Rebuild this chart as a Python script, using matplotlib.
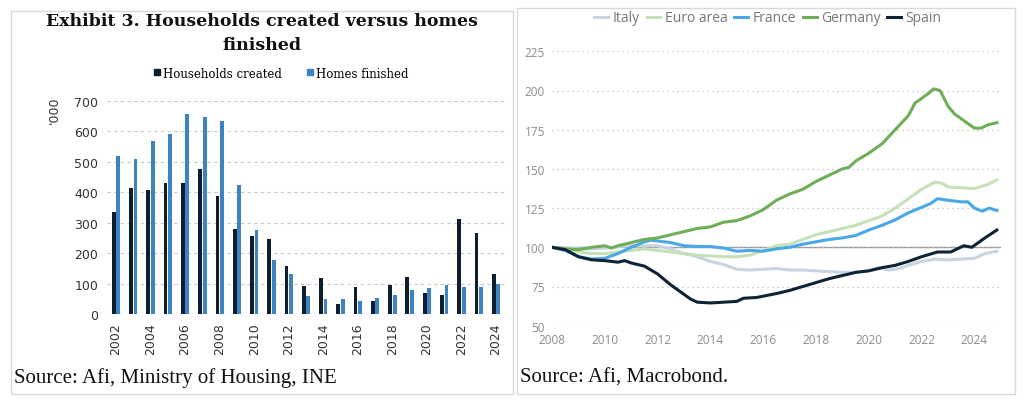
"""Two-panel exhibit: households vs homes finished (Spain) and house price index by country."""

import matplotlib
matplotlib.use("Agg")
import matplotlib.pyplot as plt
from matplotlib.lines import Line2D
from matplotlib.patches import Rectangle

# --- left panel data ('000) ---------------------------------------------------
YEARS = list(range(2002, 2025))
HOUSEHOLDS = [334, 415, 408, 432, 429, 475, 387, 279, 255, 248, 158, 91, 117,
              32, 90, 43, 95, 122, 70, 64, 311, 265, 133]
HOMES = [519, 508, 568, 593, 658, 647, 634, 425, 276, 179, 133, 60, 50,
         50, 43, 53, 64, 78, 87, 94, 88, 88, 99]

# --- right panel data (index, 2008 = 100) ------------------------------------
ITALY_X = [2008, 2008.5, 2009, 2009.5, 2010, 2010.5, 2011, 2011.5, 2012, 2012.5,
           2013, 2013.5, 2014, 2014.5, 2015, 2015.5, 2016, 2016.5, 2017, 2017.5,
           2018, 2018.5, 2019, 2019.5, 2020, 2020.35, 2020.75, 2021, 2021.25,
           2021.5, 2022, 2022.5, 2023, 2023.5, 2024, 2024.4, 2024.85]
ITALY_Y = [100, 99.5, 99, 99, 99.5, 100.5, 101, 101, 101, 99,
           96, 94, 91, 89, 86, 85.5, 86, 86.5, 85.5, 85.5,
           85, 84.5, 84, 84, 85, 87, 85.5, 86, 87,
           88.5, 91, 92.5, 92, 92.5, 93, 96, 97.5]

EURO_X = [2008, 2008.5, 2009, 2009.5, 2010, 2010.5, 2011, 2011.5, 2012, 2012.5,
          2013, 2013.5, 2014, 2014.5, 2015, 2015.5, 2016, 2016.5, 2017, 2017.5,
          2018, 2018.5, 2019, 2019.5, 2020, 2020.5, 2021, 2021.5, 2022, 2022.5,
          2022.75, 2023, 2023.5, 2024, 2024.5, 2024.85]
EURO_Y = [100, 99, 97, 96, 96, 97, 98, 99, 98, 97,
          96, 95, 94.5, 94, 94, 95, 98, 101, 102, 105,
          108, 110, 112, 114, 117, 120, 125, 131, 137, 141.5,
          141, 138.5, 138, 137.5, 140, 143]

FRANCE_X = [2008, 2008.5, 2009, 2009.5, 2010, 2010.5, 2011, 2011.5, 2011.75, 2012,
            2012.5, 2013, 2013.5, 2014, 2014.5, 2015, 2015.5, 2016, 2016.5, 2017,
            2017.5, 2018, 2018.5, 2019, 2019.5, 2020, 2020.5, 2021, 2021.5, 2022,
            2022.35, 2022.6, 2023, 2023.5, 2023.75, 2024, 2024.3, 2024.55, 2024.85]
FRANCE_Y = [100, 98, 94, 92.5, 93, 96, 100, 103.5, 104.5, 104,
            103, 101, 100.5, 100.5, 99.5, 97.5, 98, 97.5, 99, 100,
            102, 103.5, 105, 106, 107.5, 111, 114, 117.5, 122, 125.5,
            128, 131, 130, 129, 129, 125, 123, 125, 123.5]

GERMANY_X = [2008, 2008.5, 2009, 2009.5, 2010, 2010.25, 2010.5, 2011, 2011.5, 2012,
             2012.5, 2013, 2013.5, 2014, 2014.5, 2015, 2015.5, 2016, 2016.5, 2017,
             2017.5, 2018, 2018.5, 2019, 2019.25, 2019.5, 2020, 2020.5, 2021, 2021.5,
             2021.75, 2022, 2022.25, 2022.45, 2022.7, 2023, 2023.25, 2023.5, 2023.75,
             2024, 2024.25, 2024.5, 2024.85]
GERMANY_Y = [100, 99, 98.5, 100, 101, 99.5, 101, 103, 105, 106,
             108, 110, 112, 113, 116, 117, 120, 124, 130, 134,
             137, 142, 146, 150, 151, 155, 160, 166, 175, 184,
             192, 195, 198, 201, 200, 190, 185, 182, 179,
             176, 176, 178, 179.5]

SPAIN_X = [2008, 2008.5, 2009, 2009.5, 2010, 2010.5, 2010.75, 2011, 2011.5, 2012,
           2012.5, 2013, 2013.25, 2013.5, 2014, 2014.5, 2015, 2015.25, 2015.75, 2016.5,
           2017, 2017.5, 2018, 2018.5, 2019, 2019.5, 2020, 2020.5, 2021, 2021.5,
           2022, 2022.6, 2023.1, 2023.6, 2023.9, 2024.4, 2024.85]
SPAIN_Y = [100, 98.5, 94, 92, 91.5, 90.5, 91.5, 90, 88, 83,
           76, 70, 67, 65, 64.5, 65, 65.5, 67.5, 68, 70.5,
           72.5, 75, 77.5, 80, 82, 84, 85, 87, 88.5, 91,
           94, 97, 97, 101, 100, 106, 111]

SERIES = [
    ("Italy", ITALY_X, ITALY_Y, "#c7d5e2"),
    ("Euro area", EURO_X, EURO_Y, "#c6e0b8"),
    ("France", FRANCE_X, FRANCE_Y, "#4aa8e8"),
    ("Germany", GERMANY_X, GERMANY_Y, "#6fae58"),
    ("Spain", SPAIN_X, SPAIN_Y, "#0f2336"),
]

C_HOUSE = "#0e1d2f"
C_HOMES = "#3c82c4"

fig = plt.figure(figsize=(10.24, 4.06), dpi=100)

# panel frames
for x0, y0, x1, y1 in [(11, 12, 513, 395), (517, 9, 1015, 395)]:
    fig.patches.append(Rectangle((x0 / 1024, 1 - y1 / 406), (x1 - x0) / 1024,
                                 (y1 - y0) / 406, transform=fig.transFigure,
                                 fill=False, edgecolor="#d9d9d9", lw=1.0))

# --- left panel ---------------------------------------------------------------
ax = fig.add_axes([106.7 / 1024, 1 - 315 / 406, 400 / 1024, 213 / 406])
w = 0.22
ax.bar([y - 0.13 for y in YEARS], HOUSEHOLDS, width=w, color=C_HOUSE, zorder=3)
ax.bar([y + 0.13 for y in YEARS], HOMES, width=w, color=C_HOMES, zorder=3)
ax.set_xlim(2001.46, 2024.62)
ax.set_ylim(0, 700)
ax.set_yticks(range(0, 701, 100))
ax.set_xticks(range(2002, 2025, 2))
ax.set_xticklabels([str(y) for y in range(2002, 2025, 2)], rotation=90)
ax.tick_params(length=0, labelsize=9, labelcolor="#333333", pad=6)
ax.yaxis.grid(True, linestyle=(0, (3, 3)), color="#c8c8c8", lw=0.8, zorder=0)
for s in ax.spines.values():
    s.set_visible(False)
ax.text(-0.13, 0.96, "'000", transform=ax.transAxes, rotation=90,
        ha="center", va="center", fontsize=9, color="#333333")

fig.text(262 / 1024, 1 - 22 / 406, "Exhibit 3. Households created versus homes",
         ha="center", va="center", fontsize=12.5, fontweight="bold",
         family="DejaVu Serif", color="#111111")
fig.text(262 / 1024, 1 - 45 / 406, "finished", ha="center", va="center",
         fontsize=12.5, fontweight="bold", family="DejaVu Serif", color="#111111")

handles = [Line2D([], [], marker="s", ls="", color=C_HOUSE, markersize=5),
           Line2D([], [], marker="s", ls="", color=C_HOMES, markersize=5)]
fig.legend(handles, ["Households created", "Homes finished"], loc="center",
           bbox_to_anchor=(280 / 1024, 1 - 74 / 406), ncol=2, frameon=False,
           prop={"family": "DejaVu Serif", "size": 8.5}, handletextpad=0.1,
           columnspacing=2.0, handlelength=0.8)

fig.text(14 / 1024, 1 - 378 / 406, "Source: Afi, Ministry of Housing, INE",
         ha="left", va="center", fontsize=15, family="Liberation Serif",
         color="#111111")

# --- right panel --------------------------------------------------------------
ax2 = fig.add_axes([552 / 1024, 1 - 326.7 / 406, 448.8 / 1024, 274.4 / 406])
ax2.axhline(100, color="#9a9a9a", lw=1.0, zorder=1)
for name, xs, ys, col in SERIES:
    ax2.plot(xs, ys, color=col, lw=2.2, label=name, zorder=3,
             solid_joinstyle="round")
ax2.set_xlim(2008, 2025)
ax2.set_ylim(50, 225)
ax2.set_yticks(range(50, 226, 25))
ax2.set_xticks(range(2008, 2025, 2))
ax2.tick_params(length=0, labelsize=8.5, labelcolor="#8c8c8c", pad=5)
for lab in ax2.get_xticklabels() + ax2.get_yticklabels():
    lab.set_family("Open Sans")
ax2.yaxis.grid(True, linestyle=(0, (1, 3)), color="#bdbdbd", lw=0.9, zorder=0)
for s in ax2.spines.values():
    s.set_visible(False)

leg_handles = [Line2D([], [], color=col, lw=2.2) for _, _, _, col in SERIES]
fig.legend(leg_handles, [n for n, _, _, _ in SERIES], loc="center",
           bbox_to_anchor=(768 / 1024, 1 - 19 / 406), ncol=5, frameon=False,
           prop={"family": "Open Sans", "size": 10}, labelcolor="#777777",
           handlelength=1.0, handletextpad=0.3, columnspacing=0.5)

fig.text(520 / 1024, 1 - 378 / 406, "Source: Afi, Macrobond.",
         ha="left", va="center", fontsize=15, family="Liberation Serif",
         color="#111111")

fig.savefig("out.png", dpi=100)
